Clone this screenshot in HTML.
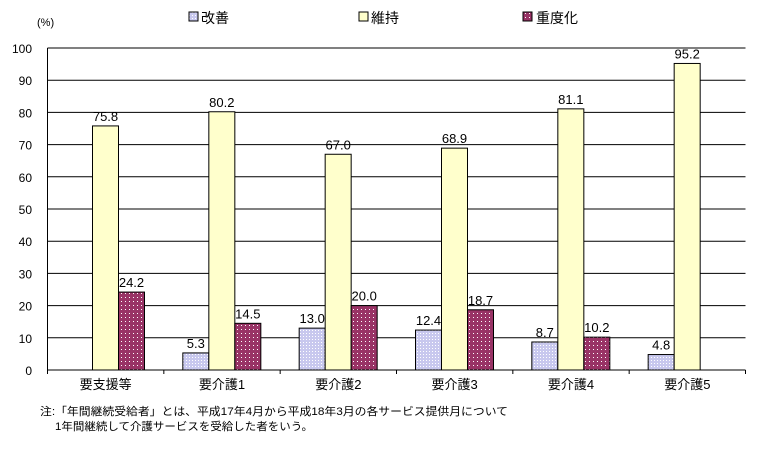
<!DOCTYPE html>
<html><head><meta charset="utf-8"><style>
body{margin:0;background:#fff}
svg text{font-family:"Liberation Sans","Noto Sans CJK JP",sans-serif;fill:#000}
</style></head><body>
<svg id="chart" width="758" height="452" xmlns="http://www.w3.org/2000/svg">
<defs>
<pattern id="pImp" width="3" height="3" patternUnits="userSpaceOnUse"><rect width="3" height="3" fill="#c8c8ee"/><rect width="1" height="1" fill="#fff"/></pattern>
<pattern id="pWor" width="4" height="4" patternUnits="userSpaceOnUse"><rect width="4" height="4" fill="#993366"/><rect x="1" y="1" width="1" height="1" fill="#fff"/></pattern>
</defs>
<g id="grid"></g><g id="bars"></g><g id="labels"></g>
<g>
<rect x="189" y="12" width="9" height="9" fill="url(#pImp)" stroke="#000"/><text x="201" y="23" font-size="14">改善</text>
<rect x="359" y="12" width="9" height="9" fill="#ffffcc" stroke="#000"/><text x="371" y="23" font-size="14">維持</text>
<rect x="523" y="12" width="9" height="9" fill="url(#pWor)" stroke="#000"/><text x="536" y="23" font-size="14">重度化</text>
</g>
<text x="37" y="26" font-size="11">(%)</text>
<text x="40" y="415" font-size="11" textLength="468" lengthAdjust="spacingAndGlyphs">注:「年間継続受給者」とは、平成17年4月から平成18年3月の各サービス提供月について</text>
<text x="55" y="430" font-size="11" textLength="258" lengthAdjust="spacingAndGlyphs">1年間継続して介護サービスを受給した者をいう。</text>
</svg>
<script>
const categories=["要支援等","要介護1","要介護2","要介護3","要介護4","要介護5"];
const improve=[0,5.3,13.0,12.4,8.7,4.8];
const maintain=[75.8,80.2,67.0,68.9,81.1,95.2];
const worsen=[24.2,14.5,20.0,18.7,10.2,0];
const yTicks=[0,10,20,30,40,50,60,70,80,90,100];
const NS="http://www.w3.org/2000/svg";
const L=47.5,R=745.5,T=48,B=370;
const gw=(R-L)/categories.length;
const y=v=>B-(v/100)*(B-T);
function mk(tag,attrs,parent){const e=document.createElementNS(NS,tag);for(const k in attrs)e.setAttribute(k,attrs[k]);parent.appendChild(e);return e;}
const grid=document.getElementById('grid'),bars=document.getElementById('bars'),labels=document.getElementById('labels');
yTicks.forEach(t=>{
 const ln=mk('line',{x1:L,x2:R,y1:y(t),y2:y(t),stroke:'#000','stroke-width':1},grid);
 
 
 const tx=mk('text',{x:32,y:y(t)+5,'font-size':12,'text-anchor':'end'},labels);
 tx.textContent=t;
 
 
});
const ax=mk('line',{x1:L,x2:L,y1:T,y2:B,stroke:'#000'},grid);


for(let i=0;i<=categories.length;i++){
 const tk=mk('line',{x1:L+i*gw,x2:L+i*gw,y1:B,y2:B+4,stroke:'#000'},grid);
 
 
}
const series=[[improve,'url(#pImp)','improve'],[maintain,'#ffffcc','maintain'],[worsen,'url(#pWor)','worsen']];
categories.forEach((c,i)=>{
 const g0=L+i*gw;
 series.forEach((s,j)=>{
  const v=s[0][i];if(!v)return;
  const x=g0+19+j*26;
  const r=mk('rect',{x:x,y:y(v),width:26,height:B-y(v),fill:s[1],stroke:'#000','stroke-width':1},bars);
  
  
  const t=mk('text',{x:x+13,y:y(v)-5,'font-size':13,'text-anchor':'middle'},labels);
  t.textContent=v.toFixed(1);
  
  
 });
 const cl=mk('text',{x:g0+gw/2,y:389,'font-size':13,'text-anchor':'middle'},labels);
 cl.textContent=c;
 
 
});
</script>
</body></html>
